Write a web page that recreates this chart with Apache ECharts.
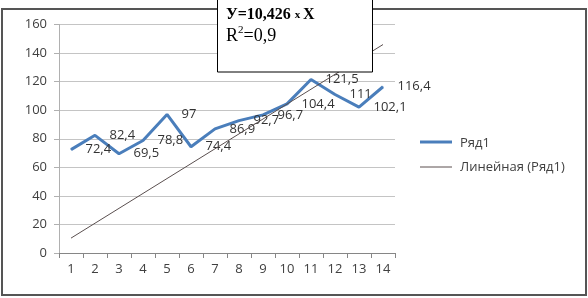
<!DOCTYPE html>
<html><head><meta charset="utf-8">
<script src="https://cdn.jsdelivr.net/npm/echarts@6/dist/echarts.min.js"></script>
<style>html,body{margin:0;padding:0;background:#fff}#c{width:588px;height:298px}</style>
</head><body><div id="c"></div>
<script>
var categories = ['1','2','3','4','5','6','7','8','9','10','11','12','13','14'];
var values = [72.4, 82.4, 69.5, 78.8, 97, 74.4, 86.9, 92.7, 96.7, 104.4, 121.5, 111, 102.1, 116.4];
var slope = 10.426;
var trend = [10.426, 20.852, 31.278, 41.704, 52.13, 62.556, 72.982, 83.408, 93.834, 104.26, 114.686, 125.112, 135.538, 145.964];
var yTicks = {min: 0, max: 160, interval: 20};
var seriesName = 'Ряд1';
var trendName = 'Линейная (Ряд1)';

var F = '"Open Sans", sans-serif';
var chart = echarts.init(document.getElementById('c'));
chart.setOption({
  animation: false,
  grid: {left: 59, right: 193, top: 24.5, bottom: 45, containLabel: false},
  xAxis: {
    type: 'category', data: categories, boundaryGap: true,
    axisLine: {lineStyle: {color: '#868686', width: 1}},
    axisTick: {show: true, length: 5, lineStyle: {color: '#868686'}},
    axisLabel: {color: '#404040', fontFamily: F, fontSize: 13, margin: 10}
  },
  yAxis: {
    type: 'value', min: yTicks.min, max: yTicks.max, interval: yTicks.interval,
    axisLine: {show: true, lineStyle: {color: '#b0b0b0', width: 1}},
    axisTick: {show: true, length: 5, lineStyle: {color: '#b0b0b0'}},
    axisLabel: {color: '#404040', fontFamily: F, fontSize: 13, margin: 12},
    splitLine: {lineStyle: {color: '#c4c4c4', width: 1}}
  },
  legend: {
    orient: 'vertical', left: 420, top: 132, itemWidth: 30, itemHeight: 10, itemGap: 11,
    textStyle: {color: '#404040', fontFamily: F, fontSize: 13},
    data: [{name: seriesName, icon: 'none'}, {name: trendName, icon: 'none'}]
  },
  series: [
    {
      name: seriesName, type: 'line', data: values,
      symbol: 'circle', symbolSize: 1,
      itemStyle: {color: '#4a7ebb'},
      lineStyle: {color: '#4a7ebb', width: 3},
      label: {show: true, position: 'right', distance: 14, color: '#333', fontFamily: F, fontSize: 13,
        formatter: function (p) { return String(p.value).replace('.', ','); }},
      z: 3
    },
    {
      name: trendName, type: 'line', data: trend,
      symbol: 'none',
      itemStyle: {color: '#5a4f4f'},
      lineStyle: {color: '#5a4f4f', width: 1},
      z: 4
    }
  ],
  graphic: [
    {type: 'rect', shape: {x: 2, y: 9, width: 584, height: 286}, style: {fill: 'none', stroke: '#555', lineWidth: 2}, z: 100},
    {type: 'rect', shape: {x: 217.5, y: -1, width: 155, height: 73}, style: {fill: '#fff', stroke: '#000', lineWidth: 1}, z: 101},
    {type: 'text', x: 226, y: 7, z: 102, style: {
      text: '{a|У=10,426 }{s|х }{a|Х}', rich: {
        a: {fontFamily: '"Liberation Serif", serif', fontWeight: 'bold', fontSize: 16, fill: '#000'},
        s: {fontFamily: '"Liberation Serif", serif', fontWeight: 'bold', fontSize: 11, fill: '#000'}
      }}},
    {type: 'text', x: 226, y: 25, z: 102, style: {
      text: '{a|R}{b|2}{a|=0,9}', rich: {
        a: {fontFamily: '"Liberation Serif", serif', fontSize: 18, fill: '#000', verticalAlign: 'bottom'},
        b: {fontFamily: '"Liberation Serif", serif', fontSize: 11, fill: '#000', verticalAlign: 'top', padding: [0, 0, 9, 0]}
      }}},
    {type: 'line', z: 102, shape: {x1: 420, y1: 142, x2: 452, y2: 142}, style: {stroke: '#4a7ebb', lineWidth: 3}},
    {type: 'line', z: 102, shape: {x1: 420, y1: 167, x2: 452, y2: 167}, style: {stroke: '#5a4f4f', lineWidth: 1}}
  ]
});
</script></body></html>
